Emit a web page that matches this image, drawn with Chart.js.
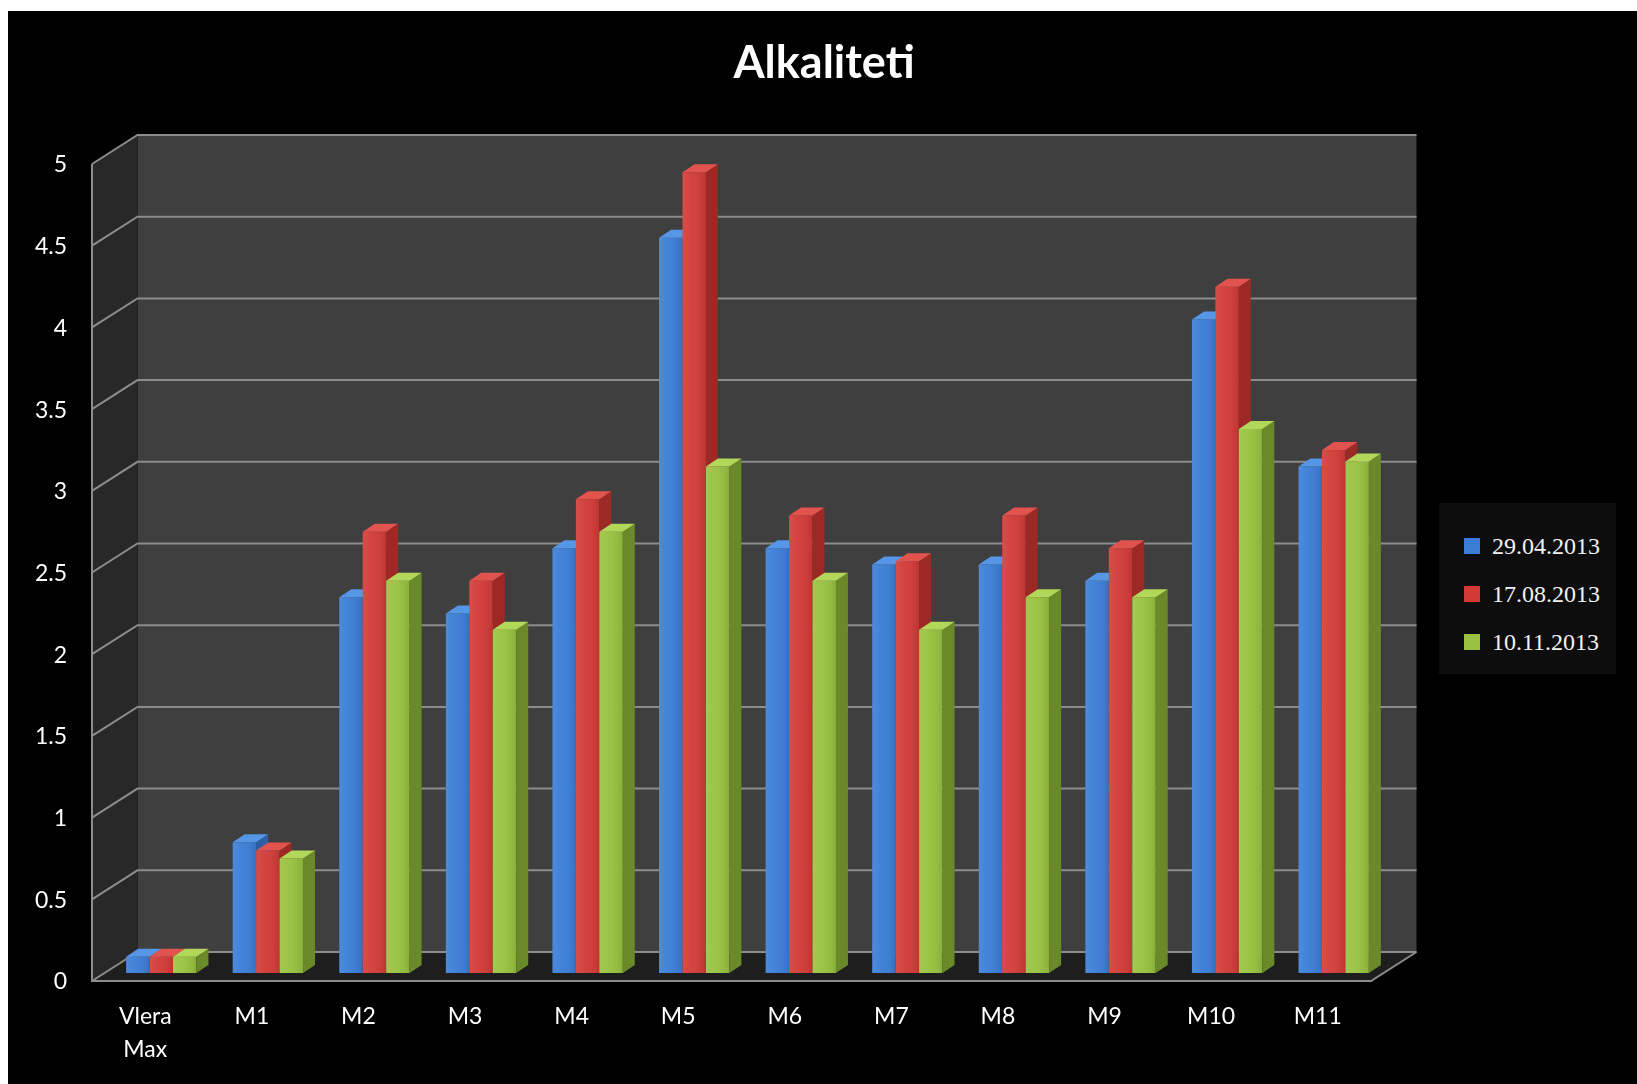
<!DOCTYPE html>
<html>
<head>
<meta charset="utf-8">
<script src="https://cdn.jsdelivr.net/npm/chart.js@4.4.1/dist/chart.umd.min.js"></script>
<style>
  html, body { margin: 0; padding: 0; background: #fff; }
  #wrap { position: relative; width: 1637px; height: 1084px; }
  #legend {
    position: absolute; left: 1439px; top: 503px; width: 177px; height: 171px;
    background: #0d0d0d; box-sizing: border-box; padding-top: 19px;
    font-family: "Liberation Serif", "Times New Roman", serif; font-size: 24px; color: #f2f2f2;
  }
  #legend div { height: 48px; display: flex; align-items: center; padding-left: 25px; }
  #legend span.box { width: 16px; height: 16px; margin-right: 12px; display: inline-block; }
</style>
</head>
<body>
<div id="wrap">
  <canvas id="grafico" width="1637" height="1084"></canvas>
  <div id="legend"></div>
</div>
<script>
const categorias = [['Vlera', 'Max'], 'M1', 'M2', 'M3', 'M4', 'M5', 'M6', 'M7', 'M8', 'M9', 'M10', 'M11'];
const datas = ['29.04.2013', '17.08.2013', '10.11.2013'];
const valoresAbril = [0.1, 0.8, 2.3, 2.2, 2.6, 4.5, 2.6, 2.5, 2.5, 2.4, 4.0, 3.1];
const valoresAgosto = [0.1, 0.75, 2.7, 2.4, 2.9, 4.9, 2.8, 2.52, 2.8, 2.6, 4.2, 3.2];
const valoresNovembro = [0.1, 0.7, 2.4, 2.1, 2.7, 3.1, 2.4, 2.1, 2.3, 2.3, 3.33, 3.13];
const ticksY = [0, 0.5, 1, 1.5, 2, 2.5, 3, 3.5, 4, 4.5, 5];

const cores = [
    { front: '#3a7dd6', side: '#2b5fa8', top: '#5596e6' },
    { front: '#d23a36', side: '#9c2926', top: '#e2534e' },
    { front: '#98c23f', side: '#6a8a2a', top: '#b2d85a' }
];

// offsets of the front edge and back wall relative to the plane of the bars
const FRENTE = { dx: -16, dy: 8 };
const FUNDO = { dx: 29.5, dy: -21 };
const PROF = { dx: 12, dy: 8 };

const cenario = {
    id: 'cenario',
    beforeDraw(chart) {
        const ctx = chart.ctx;
        ctx.save();
        ctx.fillStyle = '#ffffff';
        ctx.fillRect(0, 0, chart.width, chart.height);
        ctx.fillStyle = '#000000';
        ctx.fillRect(8, 11, chart.width - 8, chart.height - 11);
        ctx.restore();
    },
    beforeDatasetsDraw(chart) {
        const ctx = chart.ctx;
        const y = chart.scales.y;
        const area = chart.chartArea;
        const y0 = y.getPixelForValue(0);
        const y5 = y.getPixelForValue(5);
        const fx0 = area.left + FRENTE.dx, fxR = area.right + FRENTE.dx;
        const bx0 = area.left + FUNDO.dx, bxR = area.right + FUNDO.dx;

        ctx.save();
        // back wall
        ctx.fillStyle = '#3f3f3f';
        ctx.fillRect(bx0, y5 + FUNDO.dy, bxR - bx0, y0 - y5);
        // side wall
        ctx.fillStyle = '#282828';
        ctx.beginPath();
        ctx.moveTo(fx0, y5 + FRENTE.dy);
        ctx.lineTo(bx0, y5 + FUNDO.dy);
        ctx.lineTo(bx0, y0 + FUNDO.dy);
        ctx.lineTo(fx0, y0 + FRENTE.dy);
        ctx.closePath();
        ctx.fill();
        // floor
        ctx.fillStyle = '#1e1e1e';
        ctx.beginPath();
        ctx.moveTo(fx0, y0 + FRENTE.dy);
        ctx.lineTo(fxR, y0 + FRENTE.dy);
        ctx.lineTo(bxR, y0 + FUNDO.dy);
        ctx.lineTo(bx0, y0 + FUNDO.dy);
        ctx.closePath();
        ctx.fill();

        ctx.strokeStyle = '#8c8c8c';
        ctx.lineWidth = 2;
        ticksY.forEach(v => {
            const py = y.getPixelForValue(v);
            ctx.beginPath();
            ctx.moveTo(fx0, py + FRENTE.dy);
            ctx.lineTo(bx0, py + FUNDO.dy);
            ctx.lineTo(bxR, py + FUNDO.dy);
            ctx.stroke();
        });
        ctx.beginPath();
        ctx.moveTo(fx0, y5 + FRENTE.dy);
        ctx.lineTo(fx0, y0 + FRENTE.dy);
        ctx.lineTo(fxR, y0 + FRENTE.dy);
        ctx.lineTo(bxR, y0 + FUNDO.dy);
        ctx.stroke();
        ctx.restore();
    },
    // skip the default pass, bars are painted left to right below
    beforeDatasetDraw() {
        return false;
    },
    afterDatasetsDraw(chart) {
        const ctx = chart.ctx;
        ctx.save();
        chart.data.datasets.forEach((ds, i) => {
            const cor = cores[i];
            chart.getDatasetMeta(i).data.forEach(bar => {
                bar.draw(ctx);
                const { x, y, base, width } = bar.getProps(['x', 'y', 'base', 'width'], true);
                const l = x - width / 2, r = x + width / 2;
                // soft shading on the front face
                const g = ctx.createLinearGradient(l, 0, r, 0);
                g.addColorStop(0, 'rgba(255,255,255,0.10)');
                g.addColorStop(0.4, 'rgba(255,255,255,0.04)');
                g.addColorStop(1, 'rgba(0,0,0,0.10)');
                ctx.fillStyle = g;
                ctx.fillRect(l, y, width, base - y);
                // side
                ctx.fillStyle = cor.side;
                ctx.beginPath();
                ctx.moveTo(r, y);
                ctx.lineTo(r + PROF.dx, y - PROF.dy);
                ctx.lineTo(r + PROF.dx, base - PROF.dy);
                ctx.lineTo(r, base);
                ctx.closePath();
                ctx.fill();
                // top
                ctx.fillStyle = cor.top;
                ctx.beginPath();
                ctx.moveTo(l, y);
                ctx.lineTo(l + PROF.dx, y - PROF.dy);
                ctx.lineTo(r + PROF.dx, y - PROF.dy);
                ctx.lineTo(r, y);
                ctx.closePath();
                ctx.fill();
            });
        });
        ctx.restore();
    }
};

const series = [valoresAbril, valoresAgosto, valoresNovembro];

const grafico = new Chart(document.getElementById('grafico').getContext('2d'), {
    type: 'bar',
    data: {
        labels: categorias,
        datasets: series.map((valores, i) => ({
            label: datas[i],
            data: valores,
            backgroundColor: cores[i].front,
            borderWidth: 0,
            categoryPercentage: 0.66,
            barPercentage: 1.0
        }))
    },
    options: {
        responsive: false,
        animation: false,
        layout: { padding: { left: 11, right: 0, top: 0, bottom: 0 } },
        plugins: {
            legend: { display: false },
            tooltip: { enabled: false },
            title: {
                display: true,
                text: 'Alkaliteti',
                color: '#ffffff',
                font: { family: 'Lato', size: 45, weight: 'bold', lineHeight: 1.2 },
                padding: { top: 36, bottom: 66 }
            }
        },
        scales: {
            x: {
                grid: { display: false, drawTicks: false },
                border: { display: false },
                ticks: {
                    color: '#ffffff',
                    font: { family: 'Lato', size: 23, lineHeight: 1.43 },
                    padding: 27,
                    labelOffset: FRENTE.dx,
                    maxRotation: 0
                },
                afterFit: s => { s.height = 111; }
            },
            y: {
                min: 0,
                max: 5,
                grid: { display: false, drawTicks: false },
                border: { display: false },
                ticks: {
                    stepSize: 0.5,
                    color: '#ffffff',
                    font: { family: 'Lato', size: 23 },
                    padding: 41,
                    labelOffset: FRENTE.dy + 1,
                    callback: v => String(v)
                },
                afterFit: s => { s.width = 97; }
            },
            // empty axis that keeps room on the right for the legend
            espaco: {
                position: 'right',
                grid: { display: false, drawTicks: false },
                border: { display: false },
                ticks: { display: false },
                afterFit: s => { s.width = 250; }
            }
        }
    },
    plugins: [cenario]
});

// legend built from the chart's datasets
const legenda = document.getElementById('legend');
grafico.data.datasets.forEach(ds => {
    const item = document.createElement('div');
    const caixa = document.createElement('span');
    caixa.className = 'box';
    caixa.style.background = ds.backgroundColor;
    item.appendChild(caixa);
    item.appendChild(document.createTextNode(ds.label));
    legenda.appendChild(item);
});
</script>
</body>
</html>
